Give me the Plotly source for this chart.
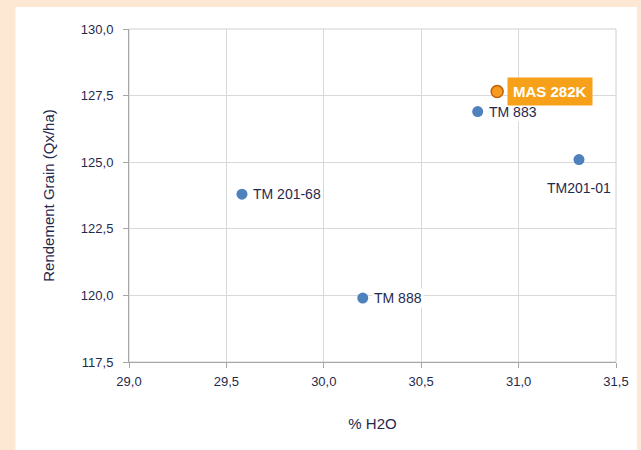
import plotly.graph_objects as go

names = ["TM 201-68", "TM 888", "TM 883", "TM201-01"]
h2o = [29.58, 30.20, 30.79, 31.31]
rendement = [123.8, 119.9, 126.9, 125.1]

hl_name = ["MAS 282K"]
hl_h2o = [30.89]
hl_rend = [127.65]

x_ticks = [29.0, 29.5, 30.0, 30.5, 31.0, 31.5]
y_ticks = [117.5, 120.0, 122.5, 125.0, 127.5, 130.0]

label_pos = {"TM 201-68": "right", "TM 888": "right", "TM 883": "right", "TM201-01": "below"}

font_txt = "Liberation Sans, Arial, sans-serif"
navy = "#1F2A4D"

fig = go.Figure()
fig.add_trace(go.Scatter(
    x=h2o, y=rendement, mode="markers",
    marker=dict(size=11, color="#4F81BD", line=dict(width=0)),
    showlegend=False, hoverinfo="skip"))
fig.add_trace(go.Scatter(
    x=hl_h2o, y=hl_rend, mode="markers",
    marker=dict(size=12, color="#F79A1E", line=dict(width=1.5, color="#C0600A")),
    showlegend=False, hoverinfo="skip"))

annots = []
for n, xv, yv in zip(names, h2o, rendement):
    if label_pos[n] == "right":
        annots.append(dict(x=xv, y=yv, text=n, showarrow=False, xanchor="left", yanchor="middle",
                           xshift=9, font=dict(family=font_txt, size=14, color=navy),
                           bgcolor="white", borderpad=1))
    else:
        annots.append(dict(x=xv, y=yv, text=n, showarrow=False, xanchor="center", yanchor="middle",
                           yshift=-28, font=dict(family=font_txt, size=14, color=navy),
                           bgcolor="white", borderpad=1))
for n, xv, yv in zip(hl_name, hl_h2o, hl_rend):
    annots.append(dict(x=xv, y=yv, text="<b>" + n + "</b>", showarrow=False, xanchor="left",
                       yanchor="middle", xshift=10,
                       font=dict(family=font_txt, size=15, color="white"),
                       bgcolor="#F7A11A", borderpad=5))

fig.update_layout(
    width=641, height=450,
    paper_bgcolor="#FDE8D3", plot_bgcolor="white",
    margin=dict(l=129, r=23, t=29, b=88),
    separators=", ",
    annotations=annots,
    shapes=[dict(type="rect", xref="paper", yref="paper", layer="below",
                 x0=-114/489, x1=(639-129)/489, y0=-88/333, y1=(362-7)/333,
                 fillcolor="white", line=dict(width=0))],
    xaxis=dict(range=[29.0, 31.5], tickvals=x_ticks, tickformat=".1f",
               showgrid=True, gridcolor="#D9D9D9", gridwidth=1,
               showline=True, linecolor="#A6A6A6", linewidth=1, mirror=False,
               ticks="outside", ticklen=5, tickcolor="#A6A6A6",
               zeroline=False, ticklabelstandoff=2,
               tickfont=dict(family=font_txt, size=13, color=navy),
               title=dict(text="% H2O", font=dict(family=font_txt, size=15, color=navy), standoff=30)),
    yaxis=dict(range=[117.5, 130.0], tickvals=y_ticks, tickformat=".1f",
               showgrid=True, gridcolor="#D9D9D9", gridwidth=1,
               showline=True, linecolor="#A6A6A6", linewidth=1,
               ticks="outside", ticklen=5, tickcolor="#A6A6A6",
               zeroline=False, ticklabelstandoff=7,
               tickfont=dict(family=font_txt, size=13, color=navy),
               title=dict(text="Rendement Grain (Qx/ha)", font=dict(family=font_txt, size=15, color=navy), standoff=22)),
)
fig.add_shape(type="rect", xref="paper", yref="paper", x0=0, x1=1, y0=0, y1=1,
              line=dict(color="#D0D0D0", width=1), layer="below")

fig.write_html("out.html", config={"displayModeBar": False},
               post_script="document.body.style.margin='0';document.body.style.padding='0';document.body.style.overflow='hidden';")
